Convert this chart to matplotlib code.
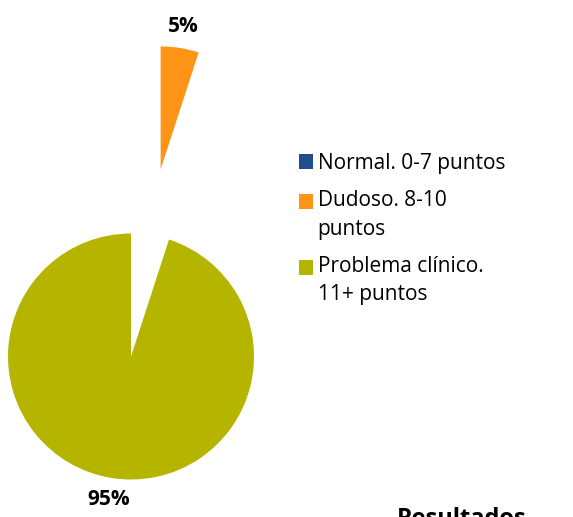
import matplotlib
matplotlib.use("Agg")
import matplotlib.pyplot as plt
from matplotlib.patches import Patch, Rectangle
from matplotlib.legend_handler import HandlerPatch

plt.rcParams.update({'font.family': ['Open Sans', 'DejaVu Sans']})

categories = ['Normal. 0-7 puntos', 'Dudoso. 8-10\npuntos', 'Problema clínico.\n11+ puntos']
values = [0, 5, 95]
colors = ['#1F4E8F', '#FF9416', '#B5B500']
explode = [0, 1.54, 0]
title = 'Resultados'

radius = 123
fig = plt.figure(figsize=(5.73, 5.17), dpi=100)
ax = fig.add_axes([0, 0, 1, 1])

def pct_label(p):
    return '' if p < 0.5 else f'{p:.0f}%'

# pie explode is in data units, so scale by the radius
wedges, texts, autotexts = ax.pie(values, colors=colors,
                                  explode=[e * radius for e in explode],
                                  startangle=90, counterclock=False,
                                  radius=radius, center=(131, 160.5),
                                  autopct=pct_label, pctdistance=1.18,
                                  wedgeprops={'linewidth': 0, 'edgecolor': 'none'},
                                  textprops={'fontsize': 15, 'fontweight': 'bold'})

ax.set_xlim(0, 573)
ax.set_ylim(0, 517)
ax.set_aspect('equal')
ax.axis('off')

# square marker sits next to the first line of a wrapped label
def top_square(legend, orig_handle, xdescent, ydescent, width, height, fontsize):
    return Rectangle((-xdescent, -ydescent + 10.2), width, height)

handles = [Patch(facecolor=c, edgecolor='none') for c in colors]
hmap = {h: HandlerPatch(patch_func=top_square) for h, lab in zip(handles, categories) if '\n' in lab}
leg = ax.legend(handles, categories, loc='upper left', bbox_to_anchor=(280 / 573, 1 - 134 / 517),
                frameon=False, fontsize=15, handlelength=0.7, handleheight=0.7,
                handletextpad=0.2, labelspacing=0.8, handler_map=hmap)
for t in leg.get_texts():
    t.set_linespacing(1.45)

ax.text(397, 10, title, fontsize=17, fontweight='bold', va='top', ha='left')

fig.savefig('out.png', dpi=100)
